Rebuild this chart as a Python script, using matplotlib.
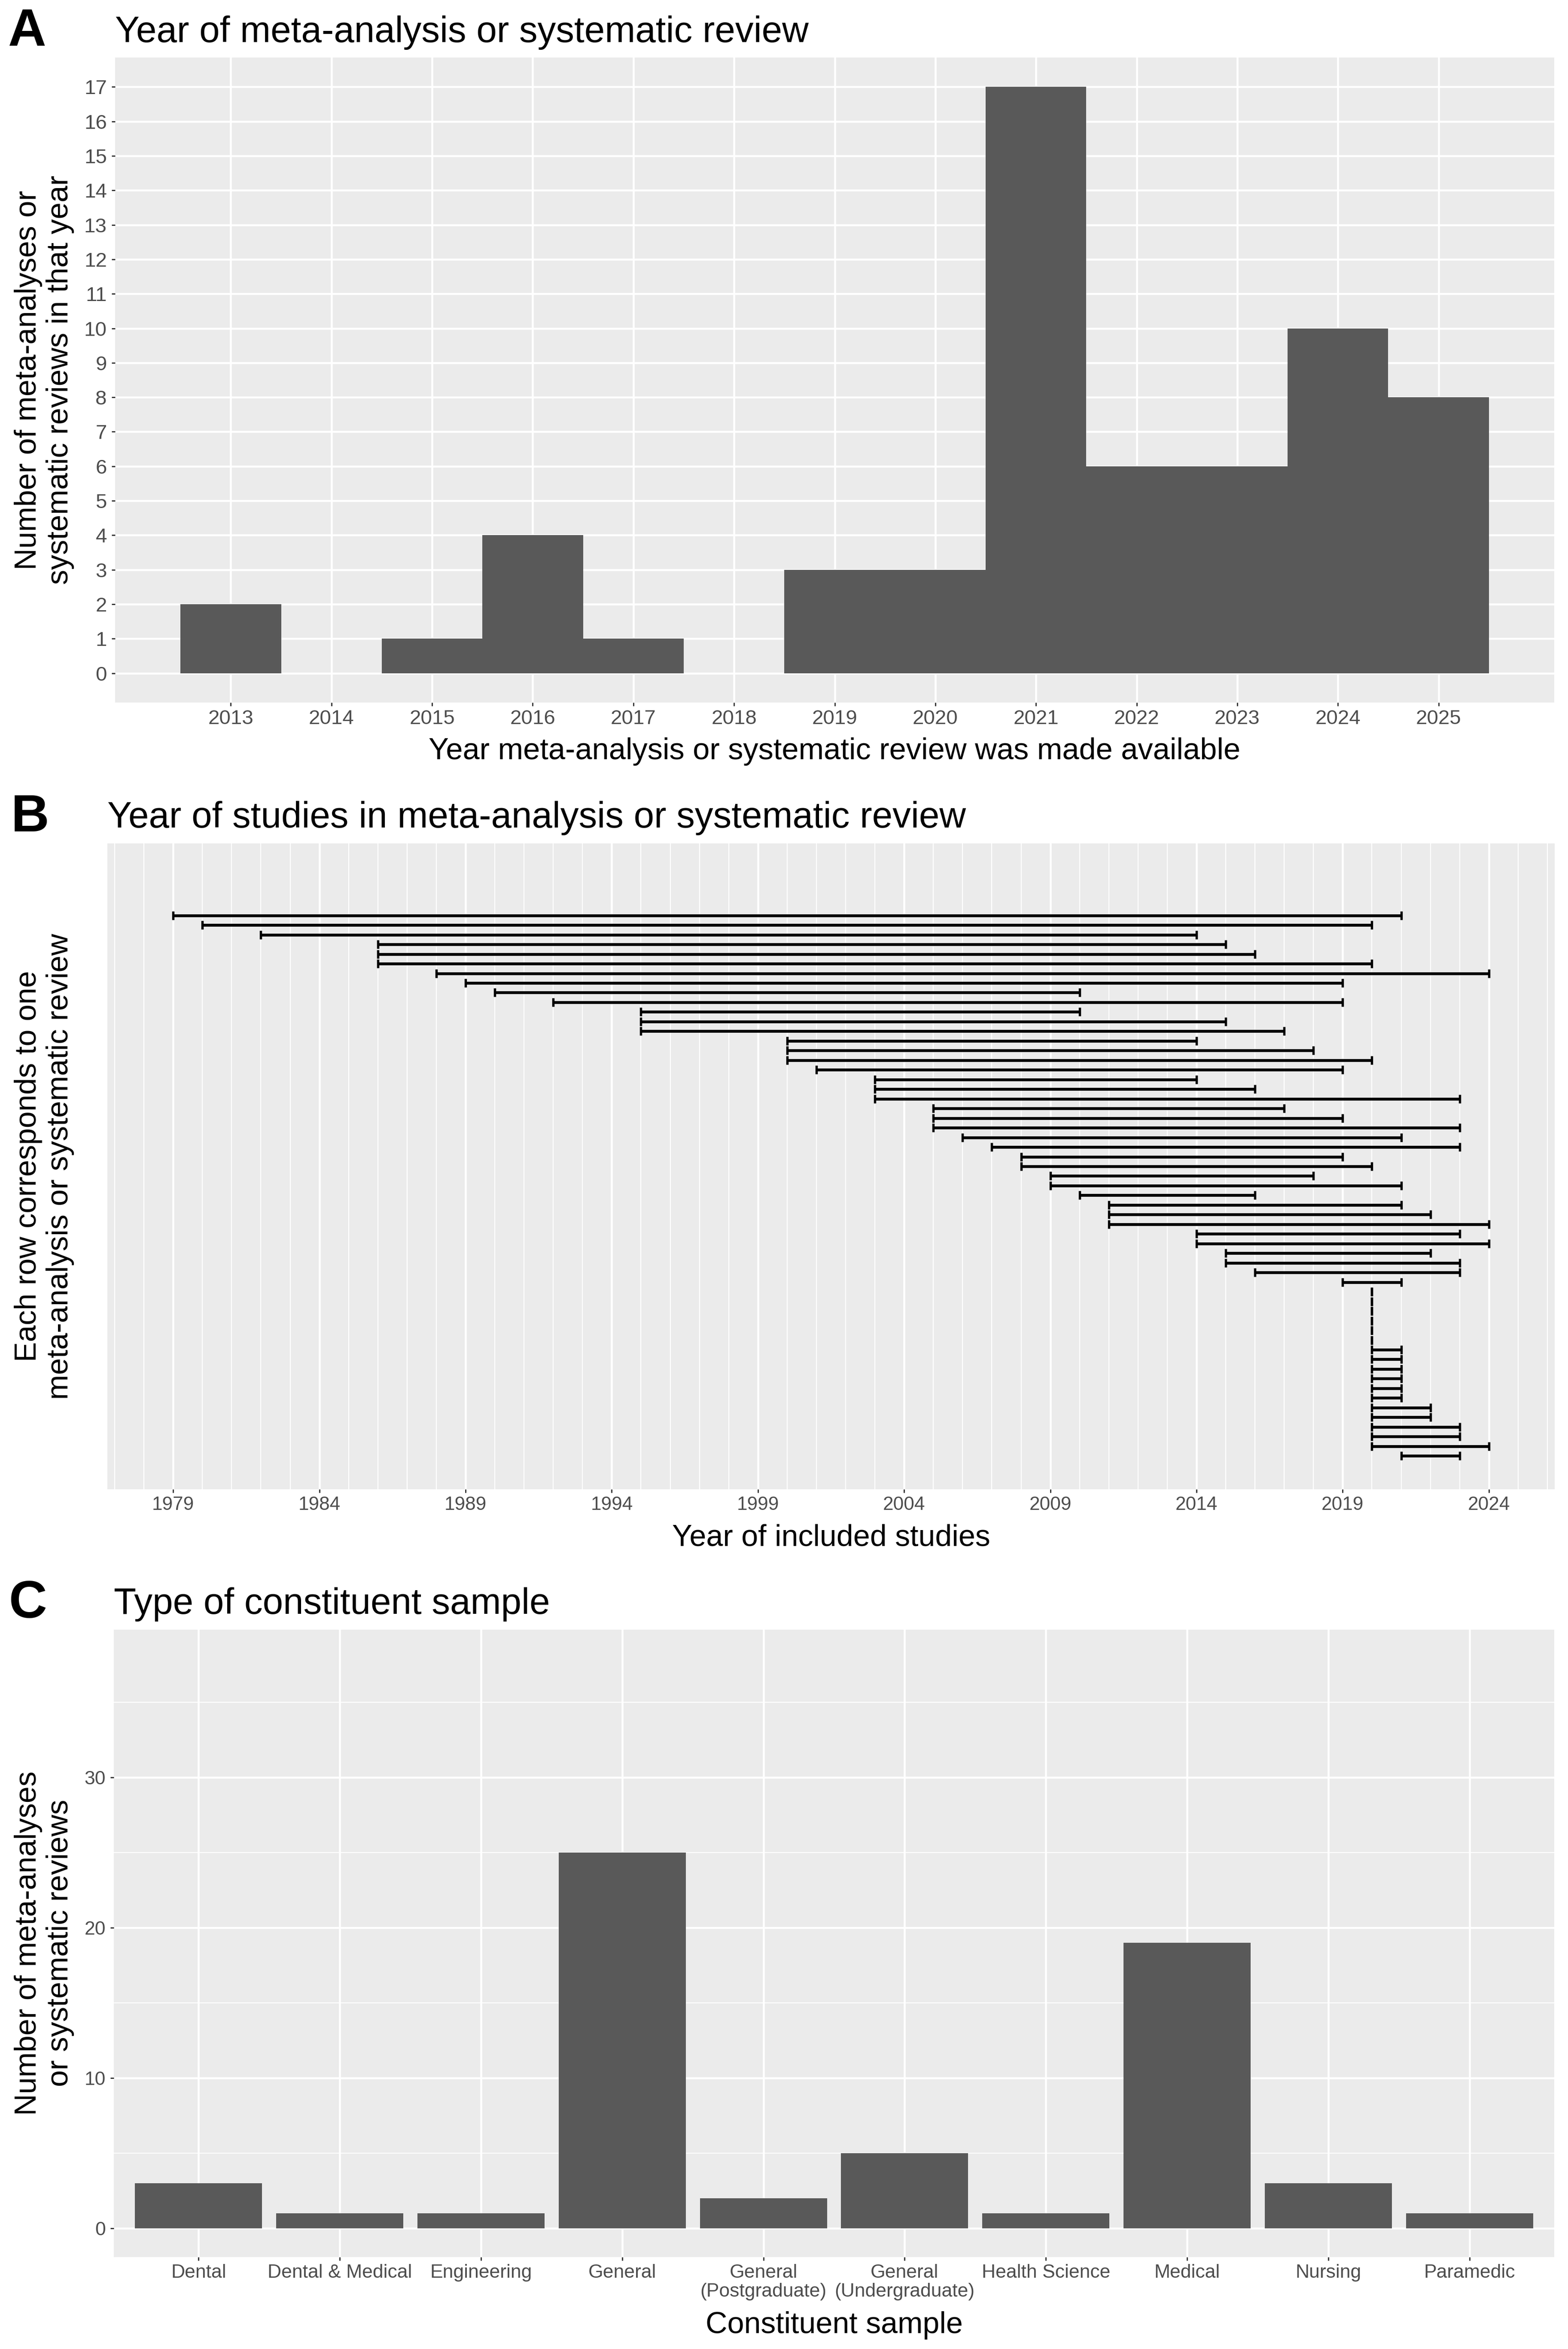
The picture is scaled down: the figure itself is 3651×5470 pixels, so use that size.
import numpy as np
import matplotlib
matplotlib.use("Agg")
from matplotlib import pyplot as plt
from matplotlib.ticker import MultipleLocator, FixedLocator

plt.rcParams['font.family'] = ['Liberation Sans', 'DejaVu Sans']

# panel A: publication year of each meta-analysis / review
pub_years = [2013, 2014, 2015, 2016, 2017, 2018, 2019, 2020, 2021, 2022, 2023, 2024, 2025]
pub_counts = [2, 0, 1, 4, 1, 0, 3, 3, 17, 6, 6, 10, 8]

# panel B: range of years of included studies (one row per review)
study_start = [1979, 1980, 1982, 1986, 1986, 1986, 1988, 1989, 1990, 1992,
               1995, 1995, 1995, 2000, 2000, 2000, 2001, 2003, 2003, 2003,
               2005, 2005, 2005, 2006, 2007, 2008, 2008, 2009, 2009, 2010,
               2011, 2011, 2011, 2014, 2014, 2015, 2015, 2016, 2019,
               2020, 2020, 2020, 2020, 2020, 2020,
               2020, 2020, 2020, 2020, 2020, 2020,
               2020, 2020, 2020, 2020, 2020, 2021]
study_end = [2021, 2020, 2014, 2015, 2016, 2020, 2024, 2019, 2010, 2019,
             2010, 2015, 2017, 2014, 2018, 2020, 2019, 2014, 2016, 2023,
             2017, 2019, 2023, 2021, 2023, 2019, 2020, 2018, 2021, 2016,
             2021, 2022, 2024, 2023, 2024, 2022, 2023, 2023, 2021,
             2020, 2020, 2020, 2020, 2020, 2020,
             2021, 2021, 2021, 2021, 2021, 2021,
             2022, 2022, 2023, 2023, 2024, 2023]

# panel C: type of constituent sample
samples = ["Dental", "Dental & Medical", "Engineering", "General",
           "General\n(Postgraduate)", "General\n(Undergraduate)",
           "Health Science", "Medical", "Nursing", "Paramedic"]
sample_counts = [3, 1, 1, 25, 2, 5, 1, 19, 3, 1]

W, H = 3651, 5470
DPI = 300
BG = "#EBEBEB"
BAR = "#595959"
TXT = "#4D4D4D"


def fx(px):
    return px / W


def fy(py):
    return 1 - py / H


def panel(fig, left, top, right, bottom):
    ax = fig.add_axes([fx(left), fy(bottom), (right - left) / W, (bottom - top) / H])
    ax.set_facecolor(BG)
    for s in ax.spines.values():
        s.set_visible(False)
    ax.set_axisbelow(True)
    return ax


fig = plt.figure(figsize=(W / DPI, H / DPI), dpi=DPI)

# XXX panel A
ax1 = panel(fig, 268, 134, 3619, 1636)
ax1.bar(pub_years, pub_counts, width=1.0, color=BAR, linewidth=0)
ax1.set_xlim(2011.85, 2026.15)
ax1.set_ylim(-0.85, 17.85)
ax1.xaxis.set_major_locator(FixedLocator(pub_years))
ax1.yaxis.set_major_locator(MultipleLocator(1))
ax1.grid(True, which='major', color='white', linewidth=1.1)
ax1.tick_params(axis='both', labelsize=11.4, labelcolor=TXT, color='#333333',
                length=2.0, width=0.7)
ax1.tick_params(axis='y', pad=2.6)
ax1.tick_params(axis='x', pad=1.8)

fig.text(fx(19), fy(106), "A", fontsize=29.5, fontweight='bold', va='baseline', ha='left')
fig.text(fx(268), fy(98), "Year of meta-analysis or systematic review", fontsize=20.5,
         va='baseline', ha='left')
fig.text(fx(1943), fy(1768), "Year meta-analysis or systematic review was made available",
         fontsize=16.9, va='baseline', ha='center')
fig.text(fx(103), fy(885), "Number of meta-analyses or\nsystematic reviews in that year",
         fontsize=16.8, rotation=90, va='center', ha='center', linespacing=1.15)

# XXX panel B
ax2 = panel(fig, 250, 1964, 3620, 3468)
rows = np.arange(1, len(study_start) + 1)
starts = np.array(study_start)
ends = np.array(study_end)
ax2.errorbar(x=starts, y=rows, xerr=[np.zeros_like(starts), ends - starts],
             fmt='none', ecolor='black', elinewidth=1.6, capsize=2.3, capthick=1.3)
ax2.set_xlim(1976.75, 2026.25)
ax2.set_ylim(57 + 3.46, 1 - 7.46)
ax2.xaxis.set_major_locator(MultipleLocator(5, offset=4))
ax2.xaxis.set_minor_locator(MultipleLocator(1))
ax2.grid(True, axis='x', which='major', color='white', linewidth=1.1)
ax2.grid(True, axis='x', which='minor', color='white', linewidth=0.55)
ax2.set_yticks([])
ax2.tick_params(axis='x', which='major', labelsize=10.6, labelcolor=TXT, color='#333333',
                length=2.0, width=0.7, pad=1.8)
ax2.tick_params(axis='x', which='minor', length=0)

fig.text(fx(26), fy(1936), "B", fontsize=29.5, fontweight='bold', va='baseline', ha='left')
fig.text(fx(250), fy(1927), "Year of studies in meta-analysis or systematic review",
         fontsize=20.5, va='baseline', ha='left')
fig.text(fx(1935), fy(3600), "Year of included studies", fontsize=16.8,
         va='baseline', ha='center')
fig.text(fx(103), fy(2716), "Each row corresponds to one\nmeta-analysis or systematic review",
         fontsize=16.8, rotation=90, va='center', ha='center', linespacing=1.15)

# XXX panel C
ax3 = panel(fig, 265, 3795, 3619, 5256)
pos = np.arange(1, len(samples) + 1)
ax3.bar(pos, sample_counts, width=0.9, color=BAR, linewidth=0)
ax3.set_xlim(0.4, len(samples) + 0.6)
ax3.set_ylim(-1.9, 39.83)
ax3.set_xticks(pos)
ax3.set_xticklabels(samples, linespacing=1.1)
ax3.yaxis.set_major_locator(MultipleLocator(10))
ax3.yaxis.set_minor_locator(MultipleLocator(5))
ax3.grid(True, which='major', color='white', linewidth=1.1)
ax3.grid(True, axis='y', which='minor', color='white', linewidth=0.55)
ax3.tick_params(axis='both', which='major', labelsize=10.7, labelcolor=TXT, color='#333333',
                length=2.0, width=0.7)
ax3.tick_params(axis='y', which='minor', length=0)
ax3.tick_params(axis='y', pad=2.6)
ax3.tick_params(axis='x', pad=1.8)

fig.text(fx(21), fy(3767), "C", fontsize=29.5, fontweight='bold', va='baseline', ha='left')
fig.text(fx(265), fy(3758), "Type of constituent sample", fontsize=20.5,
         va='baseline', ha='left')
fig.text(fx(1942), fy(5433), "Constituent sample", fontsize=16.8,
         va='baseline', ha='center')
fig.text(fx(103), fy(4525), "Number of meta-analyses\nor systematic reviews",
         fontsize=16.8, rotation=90, va='center', ha='center', linespacing=1.15)

fig.savefig("out.png", dpi=DPI, facecolor='white')
